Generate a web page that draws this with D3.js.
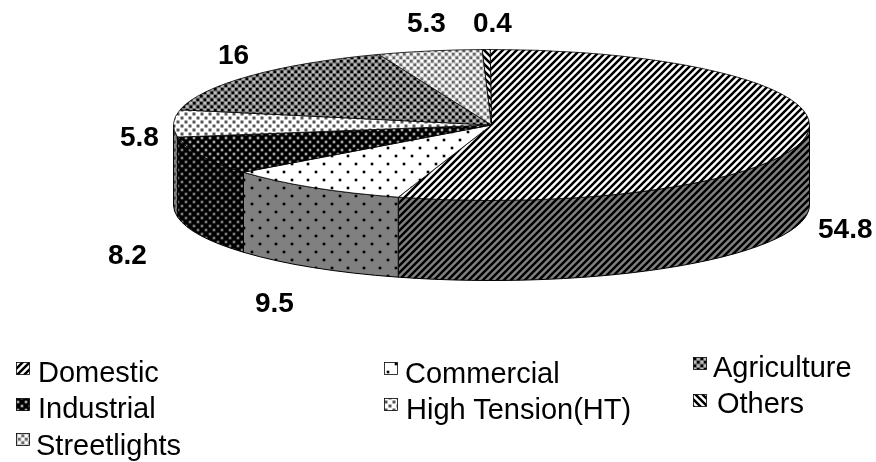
<!DOCTYPE html>
<html><head><meta charset="utf-8">
<script src="https://d3js.org/d3.v7.min.js"></script>
<style>html,body{margin:0;background:#fff}svg{display:block}text{font-family:"Liberation Sans",Arial,sans-serif;fill:#000}</style>
</head><body><svg id="c" width="876" height="462"></svg>
<script>
const categories = ["Domestic","Commercial","Industrial","High Tension(HT)","Agriculture","Streetlights","Others"];
const values = [54.8,9.5,8.2,5.8,16,5.3,0.4];
const valueLabels = ["54.8","9.5","8.2","5.8","16","5.3","0.4"];

const cx=491.5, cy=125, rx=318, ry=75.5, depth=80;
const rotation=-0.004;
const labelPos=[[818,238],[255,312],[108,264],[120,146],[218,64],[407,32],[473,32]];
const legendPos=[[16,362,38,382],[384,362,405,383],[693,357,713,377],[16,398,38,418],[384,398,406,419],[693,394,717,413],[16,433,36,455]];
const legendOrder=[0,1,4,2,3,6,5];

const svg=d3.select("#c"), defs=svg.append("defs");
const blur=(id,s)=>defs.append("filter").attr("id",id).attr("x","-5%").attr("y","-5%").attr("width","110%").attr("height","110%")
  .append("feGaussianBlur").attr("stdDeviation",s);
blur("soft",0.6); blur("softText",0.3);

function tile(id,size,bg,draw){
  const p=defs.append("pattern").attr("id",id).attr("patternUnits","userSpaceOnUse").attr("width",size).attr("height",size);
  p.append("rect").attr("width",size).attr("height",size).attr("fill",bg);
  draw(p);
}
function stripes(id,bg,fg,dir){
  tile(id,7,bg,p=>p.append("path").attr("fill","none").attr("stroke",fg).attr("stroke-width",2.5)
    .attr("d",dir>0?"M-2,2L2,-2M0,7L7,0M5,9L9,5":"M-2,5L2,9M0,0L7,7M5,-2L9,2"));
}
function dots(id,bg,fg,size,r){
  tile(id,size,bg,p=>{[[size/4,size/4],[3*size/4,3*size/4]].forEach(([x,y])=>
    p.append("rect").attr("x",x-r).attr("y",y-r).attr("width",2*r).attr("height",2*r).attr("fill",fg));});
}
function checker(id,bg,fg,on){
  tile(id,7,bg,p=>{
    p.append("path").attr("fill",fg).attr("d","M.5,.5h2.6v2.6h-2.6ZM4,4h2.6v2.6h-2.6Z");
    p.append("path").attr("fill",on).attr("d","M4,.5h2.6v2.6h-2.6ZM.5,4h2.6v2.6h-2.6Z");
  });
}
stripes("p0","#fff","#000",1);  stripes("s0","#808080","#000",1);
dots("p1","#fff","#000",16,1.3); dots("s1","#808080","#000",16,1.3);
dots("p2","#000","#aaa",8,1.3);  dots("s2","#000","#808080",8,1.3);
dots("p3","#fff","#555",8,1.5);  dots("s3","#808080","#333",8,1.5);
checker("p4","#777","#000","#bbb");
checker("p5","#ccc","#666","#fff");
stripes("p6","#fff","#000",-1);

const pie=d3.pie().sort(null).value(d=>d).startAngle(rotation).endAngle(2*Math.PI+rotation)(values);
const px=a=>cx+rx*Math.sin(a), py=a=>cy-ry*Math.cos(a);
const arcTo=(b,sweep,dy=0)=>`A${rx},${ry} 0 0 ${sweep} ${px(b)},${py(b)+dy}`;
function wedge(d){
  const n=Math.ceil((d.endAngle-d.startAngle)/(Math.PI/2));
  let s=`M${cx},${cy}L${px(d.startAngle)},${py(d.startAngle)}`;
  for(let i=1;i<=n;i++) s+=arcTo(d.startAngle+(d.endAngle-d.startAngle)*i/n,1);
  return s+"Z";
}
function side(d){
  const a=Math.max(d.startAngle,Math.PI/2), b=Math.min(d.endAngle,3*Math.PI/2);
  if(b<=a) return null;
  return `M${px(a)},${py(a)}`+arcTo(b,1)+`L${px(b)},${py(b)+depth}`+arcTo(a,0,depth)+"Z";
}
const g=svg.append("g").attr("filter","url(#soft)");
g.selectAll("path.side").data(pie).join("path").attr("class","side")
  .attr("d",side).attr("fill",(d,i)=>`url(#${i>=4?"p":"s"}${i})`).attr("stroke","#000").attr("stroke-width",1);
g.selectAll("path.top").data(pie).join("path").attr("class","top")
  .attr("d",wedge).attr("fill",(d,i)=>`url(#p${i})`).attr("stroke","#000").attr("stroke-width",.8);

const tg=svg.append("g").attr("filter","url(#softText)");
tg.selectAll("text.val").data(valueLabels).join("text").attr("class","val")
  .attr("x",(d,i)=>labelPos[i][0]).attr("y",(d,i)=>labelPos[i][1])
  .attr("font-size",28).attr("font-weight","bold").text(d=>d);

legendOrder.forEach((c,i)=>{
  const [sx,sy,tx,ty]=legendPos[i];
  g.append("rect").attr("x",sx+.5).attr("y",sy+.5).attr("width",13).attr("height",12)
    .attr("fill",`url(#p${c})`).attr("stroke","#000").attr("stroke-width",.8);
  tg.append("text").attr("x",tx).attr("y",ty).attr("font-size",29).text(categories[c]);
});
</script></body></html>
